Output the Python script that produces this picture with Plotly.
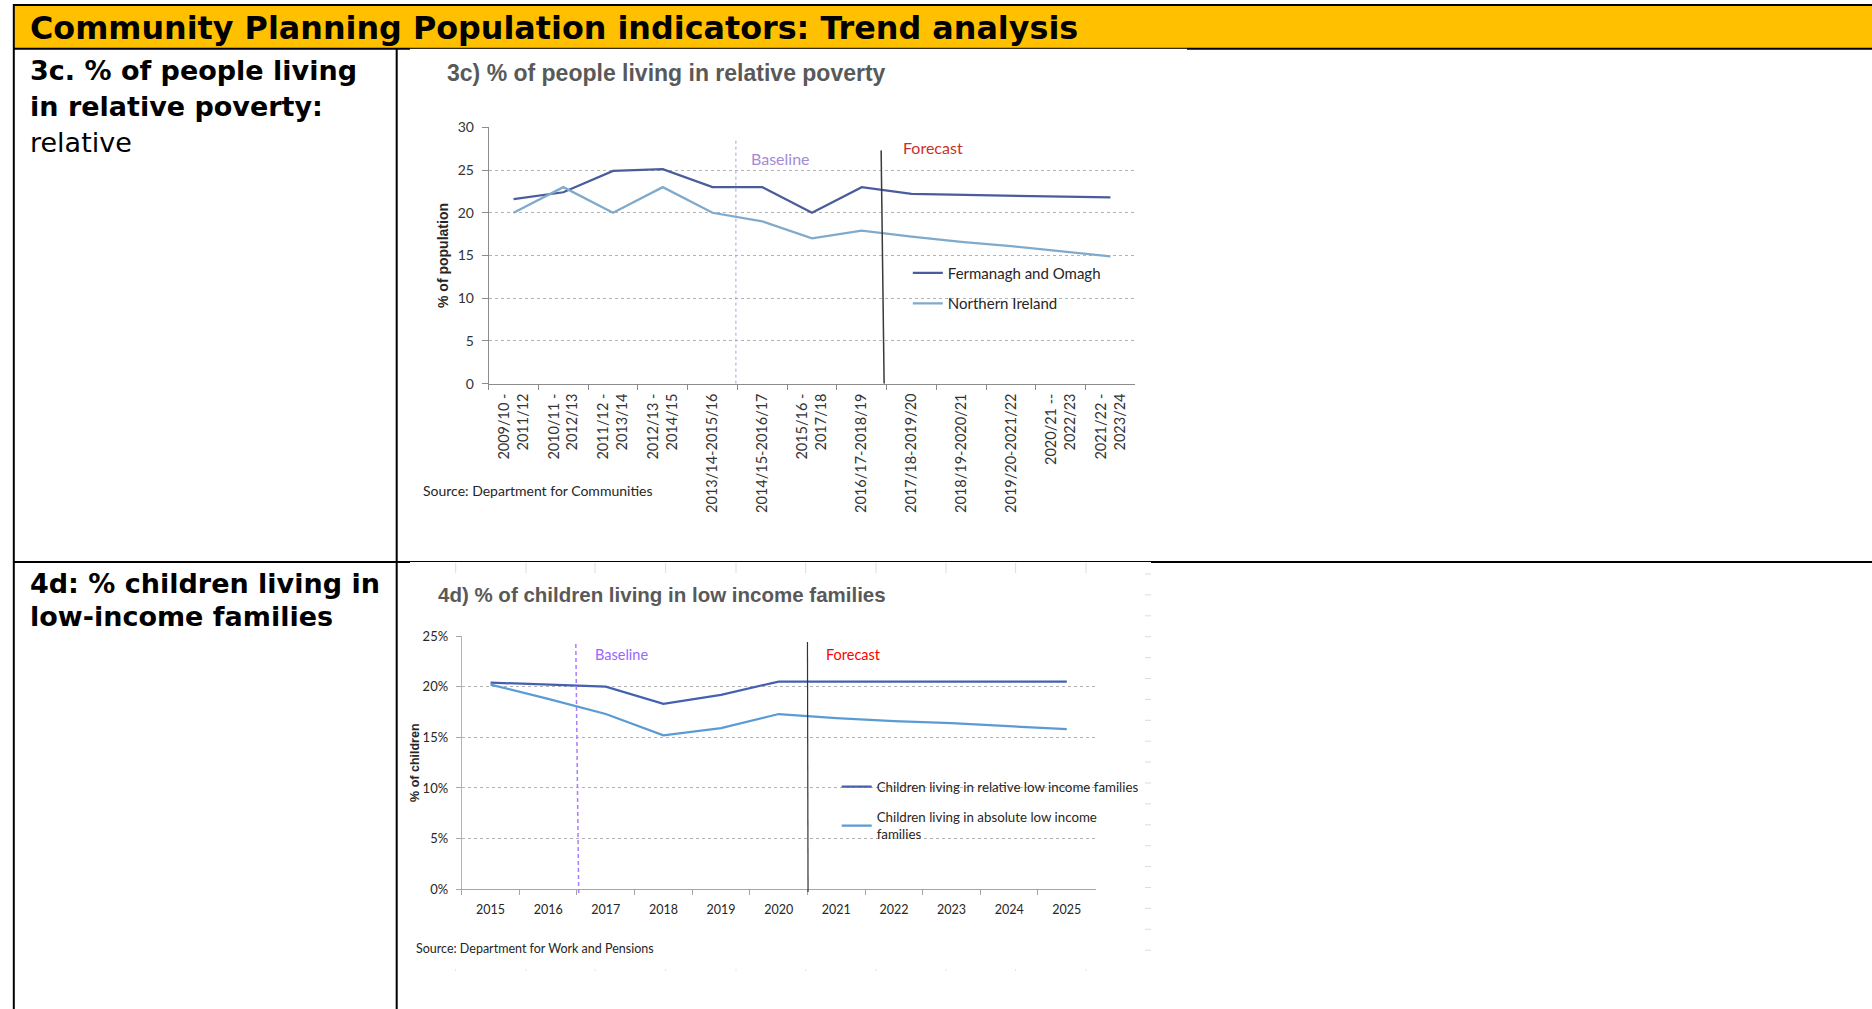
import plotly.graph_objects as go

# ---------------- data ----------------
periods = ["2009/10 -<br>2011/12", "2010/11 -<br>2012/13", "2011/12 -<br>2013/14",
           "2012/13 -<br>2014/15", "2013/14-2015/16", "2014/15-2016/17",
           "2015/16 -<br>2017/18", "2016/17-2018/19", "2017/18-2019/20",
           "2018/19-2020/21", "2019/20-2021/22", "2020/21 --<br>2022/23",
           "2021/22 -<br>2023/24"]
fermanagh_omagh = [21.6, 22.4, 24.9, 25.1, 23.0, 23.0, 20.0, 23.0, 22.2, 22.1, 22.0, 21.9, 21.8]
northern_ireland = [20.0, 23.0, 20.0, 23.0, 20.0, 19.0, 17.0, 17.9, 17.2, 16.6, 16.1, 15.5, 14.9]

years = ["2015", "2016", "2017", "2018", "2019", "2020", "2021", "2022", "2023", "2024", "2025"]
relative_low_income = [20.4, 20.2, 20.0, 18.3, 19.2, 20.5, 20.5, 20.5, 20.5, 20.5, 20.5]
absolute_low_income = [20.2, 18.8, 17.3, 15.2, 15.9, 17.3, 16.9, 16.6, 16.4, 16.1, 15.8]

W, H = 1872, 1009


def fx(p):
    return p / W


def fy(p):
    return 1 - p / H


CHART_FONT = "Lato"
fig = go.Figure()

# ---------------- traces ----------------
fig.add_trace(go.Scatter(x=periods, y=fermanagh_omagh, mode="lines", name="Fermanagh and Omagh",
                         line=dict(color="#4A5C9B", width=2.25), xaxis="x", yaxis="y",
                         legend="legend", legendgroup="fo", hoverinfo="skip"))
fig.add_trace(go.Scatter(x=periods, y=northern_ireland, mode="lines", name="Northern Ireland",
                         line=dict(color="#7FAACC", width=2.25), xaxis="x", yaxis="y",
                         legend="legend", legendgroup="ni", hoverinfo="skip"))
fig.add_trace(go.Scatter(x=years, y=relative_low_income, mode="lines",
                         name="Children living in relative low income families",
                         line=dict(color="#4361B0", width=2.25), xaxis="x2", yaxis="y2",
                         legend="legend2", legendgroup="rel", hoverinfo="skip"))
fig.add_trace(go.Scatter(x=years, y=absolute_low_income, mode="lines",
                         name="Children living in absolute low income<br>families",
                         line=dict(color="#5B9BD5", width=2.25), xaxis="x2", yaxis="y2",
                         legend="legend2", legendgroup="abs", hoverinfo="skip"))

shapes = []
annotations = []

# ---------------- table frame ----------------
shapes.append(dict(type="rect", xref="paper", yref="paper", x0=fx(14), x1=fx(1872),
                   y0=fy(48.5), y1=fy(5), fillcolor="#FFC000", line=dict(width=0), layer="below"))


def hline(y, x0, x1, w=2):
    shapes.append(dict(type="line", xref="paper", yref="paper", x0=fx(x0), x1=fx(x1),
                       y0=fy(y), y1=fy(y), line=dict(color="black", width=w)))


def vline(x, y0, y1, w=2):
    shapes.append(dict(type="line", xref="paper", yref="paper", x0=fx(x), x1=fx(x),
                       y0=fy(y0), y1=fy(y1), line=dict(color="black", width=w)))


hline(5, 13, 1872)
vline(13.8, 4, 1009)
hline(48.8, 13, 410)
hline(48.3, 410, 1187, 1)
hline(48.8, 1187, 1872)
vline(396.7, 48.8, 1009)
hline(562, 13, 410)
hline(561.5, 410, 1151, 1)
hline(562, 1151, 1872)

# faint spreadsheet-cell remnants around the second chart image
for gx in [455.7, 526, 595, 665.6, 736, 805.7, 876, 946, 1015.6, 1086]:
    shapes.append(dict(type="line", xref="paper", yref="paper", x0=fx(gx), x1=fx(gx),
                       y0=fy(563), y1=fy(573), line=dict(color="#dddddd", width=1)))
    shapes.append(dict(type="line", xref="paper", yref="paper", x0=fx(gx), x1=fx(gx),
                       y0=fy(969), y1=fy(971), line=dict(color="#e3e3e3", width=1)))
for k in range(19):
    gy = 574 + 20.9 * k
    shapes.append(dict(type="line", xref="paper", yref="paper", x0=fx(1145), x1=fx(1151),
                       y0=fy(gy), y1=fy(gy), line=dict(color="#dddddd", width=1)))

# ---------------- table text ----------------
TABLE_FONT = "DejaVu Sans"
annotations.append(dict(text="<b>Community Planning Population indicators: Trend analysis</b>",
                        xref="paper", yref="paper", x=fx(28), y=fy(27), xanchor="left",
                        yanchor="middle", showarrow=False,
                        font=dict(family=TABLE_FONT, size=31.8, color="black")))
left_lines = [("<b>3c. % of people living</b>", 70.5), ("<b>in relative poverty:</b>", 106.7),
              ("relative", 143), ("<b>4d: % children living in</b>", 583.3),
              ("<b>low-income families</b>", 616.7)]
for txt, yy in left_lines:
    annotations.append(dict(text=txt, xref="paper", yref="paper", x=fx(27.5), y=fy(yy),
                            xanchor="left", yanchor="middle", showarrow=False,
                            font=dict(family=TABLE_FONT, size=27, color="black")))

# ---------------- chart titles & sources ----------------
annotations.append(dict(text="<b>3c) % of people living in relative poverty</b>", xref="paper",
                        yref="paper", x=fx(445), y=fy(73), xanchor="left", yanchor="middle",
                        showarrow=False, font=dict(family="Liberation Sans", size=23, color="#595959")))
annotations.append(dict(text="<b>4d) % of children living in low income families</b>", xref="paper",
                        yref="paper", x=fx(436), y=fy(594), xanchor="left", yanchor="middle",
                        showarrow=False, font=dict(family="Liberation Sans", size=20.5, color="#595959")))
annotations.append(dict(text="Source: Department for Communities", xref="paper", yref="paper",
                        x=fx(421), y=fy(490), xanchor="left", yanchor="middle", showarrow=False,
                        font=dict(family=CHART_FONT, size=14, color="#262626")))
annotations.append(dict(text="Source: Department for Work and Pensions", xref="paper", yref="paper",
                        x=fx(413.5), y=fy(948), xanchor="left", yanchor="middle", showarrow=False,
                        font=dict(family=CHART_FONT, size=12.5, color="#262626")))

# ---------------- baseline / forecast markers ----------------
shapes.append(dict(type="line", xref="x", yref="y", x0=4.47, x1=4.47, y0=0, y1=28.8,
                   line=dict(color="#A9A2D8", width=1, dash="3px,3px")))
shapes.append(dict(type="line", xref="x", yref="y", x0=7.45, x1=7.39, y0=0, y1=27.3,
                   line=dict(color="#3a3a3a", width=1.5)))
annotations.append(dict(text="Baseline", xref="x", yref="y", x=4.73, y=26.4, xanchor="left",
                        yanchor="middle", showarrow=False,
                        font=dict(family=CHART_FONT, size=16, color="#A58AD6")))
annotations.append(dict(text="Forecast", xref="x", yref="y", x=7.78, y=27.65, xanchor="left",
                        yanchor="middle", showarrow=False,
                        font=dict(family=CHART_FONT, size=16, color="#C9302C")))

# chart 2 markers run slightly past the x axis, so their vertical extent is set in page units
shapes.append(dict(type="line", xref="x2", yref="paper", x0=1.53, x1=1.48, y0=fy(893), y1=fy(643),
                   line=dict(color="#A97DFF", width=1.5, dash="4px,3px")))
shapes.append(dict(type="line", xref="x2", yref="paper", x0=5.51, x1=5.5, y0=fy(892), y1=fy(642),
                   line=dict(color="#333333", width=1.2)))
annotations.append(dict(text="Baseline", xref="x2", yref="y2", x=1.78, y=23.2, xanchor="left",
                        yanchor="middle", showarrow=False,
                        font=dict(family=CHART_FONT, size=14.5, color="#9966FF")))
annotations.append(dict(text="Forecast", xref="x2", yref="y2", x=5.79, y=23.2, xanchor="left",
                        yanchor="middle", showarrow=False,
                        font=dict(family=CHART_FONT, size=14.5, color="#FF0000")))

# ---------------- layout ----------------
fig.update_layout(
    width=W, height=H, margin=dict(l=0, r=0, t=0, b=0, pad=0, autoexpand=False),
    paper_bgcolor="white", plot_bgcolor="white",
    shapes=shapes, annotations=annotations, showlegend=True,
    xaxis=dict(domain=[fx(488.7), fx(1135.3)], anchor="y", type="category", range=[-0.5, 12.5],
               automargin=False,
               tickson="boundaries", ticks="outside", ticklen=5, tickcolor="#8c8c8c",
               showline=True, linecolor="#8c8c8c", linewidth=1, showgrid=False,
               tickangle=-90, ticklabelstandoff=3,
               tickfont=dict(family=CHART_FONT, size=14.5, color="#333333")),
    yaxis=dict(domain=[fy(383.7), fy(127.3)], anchor="x", range=[0, 30], dtick=5,
               automargin=False,
               ticks="outside", ticklen=6, tickcolor="#8c8c8c", showline=True,
               linecolor="#8c8c8c", linewidth=1, showgrid=True, gridcolor="#b3b3b3",
               griddash="3px,3px", zeroline=False, ticklabelstandoff=5,
               tickfont=dict(family=CHART_FONT, size=14, color="#333333"),
               title=dict(text="<b>% of population</b>", standoff=5,
                          font=dict(family="Liberation Sans", size=14, color="#262626"))),
    xaxis2=dict(domain=[fx(461.7), fx(1095.6)], anchor="y2", type="category", range=[-0.5, 10.5],
                automargin=False,
                tickson="boundaries", ticks="outside", ticklen=5, tickcolor="#a6a6a6",
                showline=True, linecolor="#a6a6a6", linewidth=1, showgrid=False,
                tickangle=0, ticklabelstandoff=9,
                tickfont=dict(family=CHART_FONT, size=12.5, color="#262626")),
    yaxis2=dict(domain=[fy(889.3), fy(636)], anchor="x2", range=[0, 25], dtick=5,
                automargin=False,
                ticksuffix="%", ticks="outside", ticklen=5, tickcolor="#a6a6a6", showline=True,
                linecolor="#b3b3b3", linewidth=1, showgrid=True, gridcolor="#b3b3b3",
                griddash="3px,3px", zeroline=False, ticklabelstandoff=5,
                tickfont=dict(family=CHART_FONT, size=13, color="#262626"),
                title=dict(text="<b>% of children</b>", standoff=0,
                           font=dict(family="Liberation Sans", size=12.5, color="#262626"))),
    legend=dict(x=fx(907.8), y=fy(256.5), xanchor="left", yanchor="top", xref="paper", yref="paper",
                bgcolor="rgba(0,0,0,0)", borderwidth=0, tracegroupgap=8,
                font=dict(family=CHART_FONT, size=15, color="#262626")),
    legend2=dict(x=fx(836.7), y=fy(771.5), xanchor="left", yanchor="top", xref="paper", yref="paper",
                 bgcolor="rgba(0,0,0,0)", borderwidth=0, tracegroupgap=10,
                 font=dict(family=CHART_FONT, size=13.3, color="#262626")),
)

fig.write_html("out.html", config={"displayModeBar": False},
               post_script="document.body.style.margin='0';document.body.style.overflow='hidden';")
